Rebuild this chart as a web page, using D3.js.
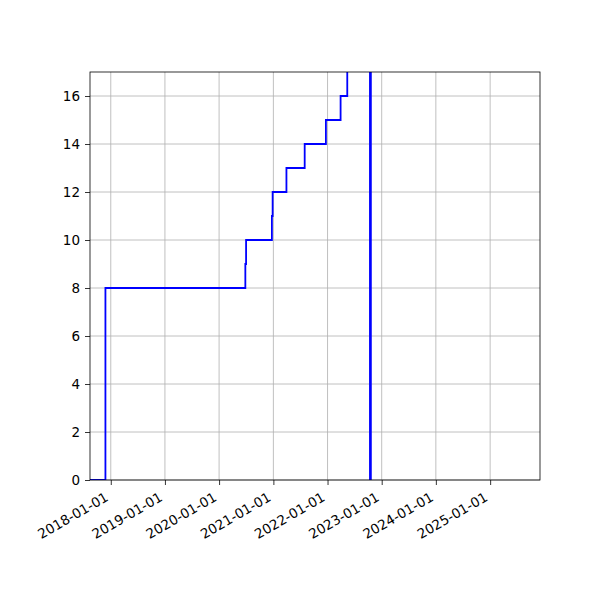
<!DOCTYPE html>
<html>
<head>
<meta charset="utf-8">
<script src="https://cdn.jsdelivr.net/npm/d3@7"></script>
<style>
  body { margin: 0; background: #fff; }
  svg text { font-family: "DejaVu Sans", sans-serif; font-size: 13.5px; fill: #000; }
</style>
</head>
<body>
<svg id="main-svg" width="600" height="600"></svg>
<script>
// step series: date of each change and the count reached at that date
let stepDates = ["2017-08-14", "2017-11-26", "2020-06-26", "2020-07-01", "2020-12-22", "2020-12-27",
                 "2021-03-30", "2021-07-31", "2021-12-21", "2022-03-30", "2022-05-14"];
let stepValues = [0, 8, 9, 10, 11, 12, 13, 14, 15, 16, 18];
let stepEnd = "2022-10-17";       // series stops here
let markerDate = "2022-10-17";    // vertical marker line
let xTickLabels = ["2018-01-01", "2019-01-01", "2020-01-01", "2021-01-01",
                   "2022-01-01", "2023-01-01", "2024-01-01", "2025-01-01"];
let xLimits = ["2017-08-14", "2025-12-03"];
let yLimits = [0, 17];
let yTicks = [0, 2, 4, 6, 8, 10, 12, 14, 16];

let parse = d3.utcParse("%Y-%m-%d");

let margin = { left: 90, right: 60, top: 72, bottom: 120 };
let width = 600 - margin.left - margin.right;
let height = 600 - margin.top - margin.bottom;

let svg = d3.select("#main-svg");
let g = svg.append("g").attr("transform", "translate(" + margin.left + "," + margin.top + ")");

let x = d3.scaleUtc().domain(xLimits.map(parse)).range([0, width]);
let y = d3.scaleLinear().domain(yLimits).range([height, 0]);

svg.append("clipPath").attr("id", "clip")
  .append("rect").attr("width", width).attr("height", height);

// grid
g.append("g").selectAll("line")
  .data(xTickLabels)
  .enter().append("line")
  .attr("x1", d => x(parse(d))).attr("x2", d => x(parse(d)))
  .attr("y1", 0).attr("y2", height)
  .attr("stroke", "#b0b0b0").attr("stroke-width", 0.8);

g.append("g").selectAll("line")
  .data(yTicks)
  .enter().append("line")
  .attr("x1", 0).attr("x2", width)
  .attr("y1", d => y(d)).attr("y2", d => y(d))
  .attr("stroke", "#b0b0b0").attr("stroke-width", 0.8);

// step line
let points = stepDates.map((d, i) => ({ date: parse(d), value: stepValues[i] }));
points.push({ date: parse(stepEnd), value: stepValues[stepValues.length - 1] });

let line = d3.line()
  .curve(d3.curveStepAfter)
  .x(d => x(d.date))
  .y(d => y(d.value));

let plot = g.append("g").attr("clip-path", "url(#clip)");

plot.append("path")
  .datum(points)
  .attr("d", line)
  .attr("fill", "none")
  .attr("stroke", "#0000ff")
  .attr("stroke-width", 1.8);

plot.append("line")
  .attr("x1", x(parse(markerDate))).attr("x2", x(parse(markerDate)))
  .attr("y1", y(yLimits[0])).attr("y2", y(yLimits[1]))
  .attr("stroke", "#0000ff")
  .attr("stroke-width", 2.7);

// axes
let xAxis = d3.axisBottom(x)
  .tickValues(xTickLabels.map(parse))
  .tickFormat(d3.utcFormat("%Y-%m-%d"))
  .tickSize(5).tickPadding(4);

let xg = g.append("g").attr("transform", "translate(0," + height + ")").call(xAxis);
xg.select(".domain").remove();
xg.selectAll("line").attr("stroke", "#000").attr("stroke-width", 0.8);
xg.selectAll("text")
  .attr("text-anchor", "end")
  .attr("y", 0).attr("dy", 0)
  .attr("transform", "translate(-2,20) rotate(-30)");

let yAxis = d3.axisLeft(y).tickValues(yTicks).tickSize(5).tickPadding(5);
let yg = g.append("g").call(yAxis);
yg.select(".domain").remove();
yg.selectAll("line").attr("stroke", "#000").attr("stroke-width", 0.8);

// spines
g.append("rect")
  .attr("width", width).attr("height", height)
  .attr("fill", "none").attr("stroke", "#000").attr("stroke-width", 0.8);
</script>
</body>
</html>
